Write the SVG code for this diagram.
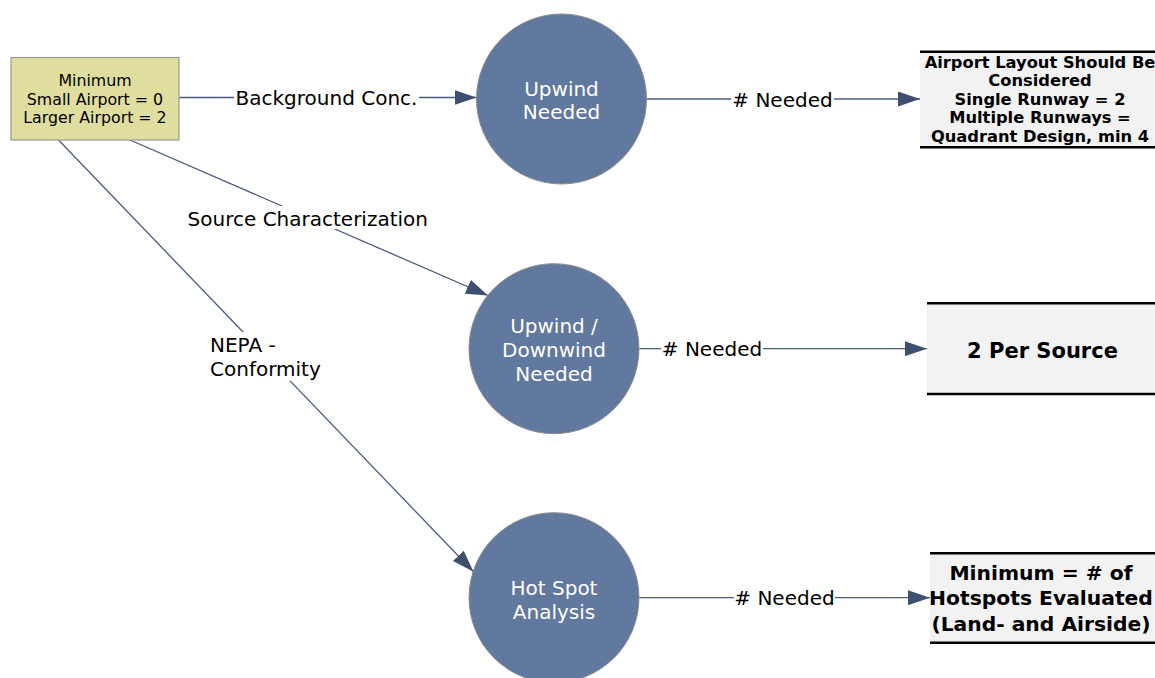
<svg xmlns="http://www.w3.org/2000/svg" width="1155" height="678" viewBox="0 0 1155 678">
  <style>
    .edge { stroke: #4a5b7c; stroke-width: 1.3; fill: none; }
    .lbl-bg { fill: #ffffff; }
    .lbl { font-family: "DejaVu Sans", Verdana, sans-serif; font-size: 20px; fill: #000000; }
    .circle { fill: #61789f; stroke: #8c8c8c; stroke-width: 1; }
    .ctext { font-family: "DejaVu Sans", Verdana, sans-serif; font-size: 20px; fill: #ffffff; text-anchor: middle; }
    .start { fill: #dfde9f; stroke: #999999; stroke-width: 1.2; }
    .stext { font-family: "DejaVu Sans", Verdana, sans-serif; font-size: 15.8px; fill: #000000; text-anchor: middle; }
    .res { fill: #f2f2f2; }
    .rule { stroke: #000000; stroke-width: 2.6; }
    .rtext { font-family: "DejaVu Sans", Verdana, sans-serif; font-weight: bold; fill: #000000; text-anchor: middle; }
  </style>
  <defs>
    <marker id="arrow" markerUnits="userSpaceOnUse" markerWidth="22" markerHeight="15" refX="22" refY="7.5" orient="auto">
      <path d="M0,0 L22,7.5 L0,15 z" fill="#3e5070"/>
    </marker>
  </defs>

  <rect width="1155" height="678" fill="#ffffff"/>

  <!-- connectors -->
  <g id="connectors">
    <line class="edge" x1="179" y1="97.5" x2="476.5" y2="97.5" marker-end="url(#arrow)"/>
    <line class="edge" x1="130" y1="140" x2="488" y2="295.5" marker-end="url(#arrow)"/>
    <line class="edge" x1="58.5" y1="140" x2="473.5" y2="571.7" marker-end="url(#arrow)"/>
    <line class="edge" x1="647" y1="99" x2="920" y2="99" marker-end="url(#arrow)"/>
    <line class="edge" x1="639.5" y1="348.7" x2="927" y2="348.7" marker-end="url(#arrow)"/>
    <line class="edge" x1="639.5" y1="597.7" x2="930" y2="597.7" marker-end="url(#arrow)"/>

    <g id="label-background">
      <rect class="lbl-bg" x="234" y="86" width="185" height="24"/>
      <text class="lbl" x="326.5" y="105" text-anchor="middle">Background Conc.</text>
    </g>
    <g id="label-source">
      <rect class="lbl-bg" x="186" y="206" width="244" height="23"/>
      <text class="lbl" x="307.8" y="225.5" text-anchor="middle">Source Characterization</text>
    </g>
    <g id="label-nepa">
      <rect class="lbl-bg" x="207" y="332" width="116" height="49"/>
      <text class="lbl" x="210" y="352">NEPA -</text>
      <text class="lbl" x="210" y="376">Conformity</text>
    </g>
    <g id="label-needed-1">
      <rect class="lbl-bg" x="731" y="88" width="103" height="23"/>
      <text class="lbl" x="782.5" y="106.5" text-anchor="middle"># Needed</text>
    </g>
    <g id="label-needed-2">
      <rect class="lbl-bg" x="661" y="338" width="102" height="23"/>
      <text class="lbl" x="712" y="356" text-anchor="middle"># Needed</text>
    </g>
    <g id="label-needed-3">
      <rect class="lbl-bg" x="734" y="587" width="101" height="23"/>
      <text class="lbl" x="784.5" y="605" text-anchor="middle"># Needed</text>
    </g>
  </g>

  <!-- starting requirement -->
  <g id="node-minimum">
    <rect class="start" x="11" y="57.5" width="168" height="82.5"/>
    <text class="stext" x="95" y="86">Minimum</text>
    <text class="stext" x="95" y="104.5">Small Airport = 0</text>
    <text class="stext" x="95" y="123">Larger Airport = 2</text>
  </g>

  <!-- sampling types -->
  <g id="node-upwind">
    <circle class="circle" cx="561.5" cy="99" r="85"/>
    <text class="ctext" x="561.5" y="95.5">Upwind</text>
    <text class="ctext" x="561.5" y="119">Needed</text>
  </g>
  <g id="node-updown">
    <circle class="circle" cx="554" cy="348.7" r="85"/>
    <text class="ctext" x="554" y="333.3">Upwind /</text>
    <text class="ctext" x="554" y="357">Downwind</text>
    <text class="ctext" x="554" y="381">Needed</text>
  </g>
  <g id="node-hotspot">
    <circle class="circle" cx="554" cy="597.7" r="85"/>
    <text class="ctext" x="554" y="594.5">Hot Spot</text>
    <text class="ctext" x="554" y="618.5">Analysis</text>
  </g>

  <!-- resulting counts -->
  <g id="node-layout">
    <rect class="res" x="920" y="51.7" width="240" height="95.6"/>
    <line class="rule" x1="920" y1="51.7" x2="1160" y2="51.7"/>
    <line class="rule" x1="920" y1="147.3" x2="1160" y2="147.3"/>
    <text class="rtext" font-size="16.3px" x="1040" y="67.8">Airport Layout Should Be</text>
    <text class="rtext" font-size="16.3px" x="1040" y="86.3">Considered</text>
    <text class="rtext" font-size="16.3px" x="1040" y="104.8">Single Runway = 2</text>
    <text class="rtext" font-size="16.3px" x="1040" y="123.3">Multiple Runways =</text>
    <text class="rtext" font-size="16.3px" x="1040" y="141.8">Quadrant Design, min 4</text>
  </g>
  <g id="node-per-source">
    <rect class="res" x="927" y="303.3" width="233" height="90.7"/>
    <line class="rule" x1="927" y1="303.3" x2="1160" y2="303.3"/>
    <line class="rule" x1="927" y1="394" x2="1160" y2="394"/>
    <text class="rtext" font-size="21px" x="1042.5" y="357.7">2 Per Source</text>
  </g>
  <g id="node-hotspots-evaluated">
    <rect class="res" x="930" y="553.3" width="230" height="89.4"/>
    <line class="rule" x1="930" y1="553.3" x2="1160" y2="553.3"/>
    <line class="rule" x1="930" y1="642.7" x2="1160" y2="642.7"/>
    <text class="rtext" font-size="20.3px" x="1041" y="579.5">Minimum = # of</text>
    <text class="rtext" font-size="20.3px" x="1041" y="605">Hotspots Evaluated</text>
    <text class="rtext" font-size="20.3px" x="1041" y="630.5">(Land- and Airside)</text>
  </g>
</svg>
